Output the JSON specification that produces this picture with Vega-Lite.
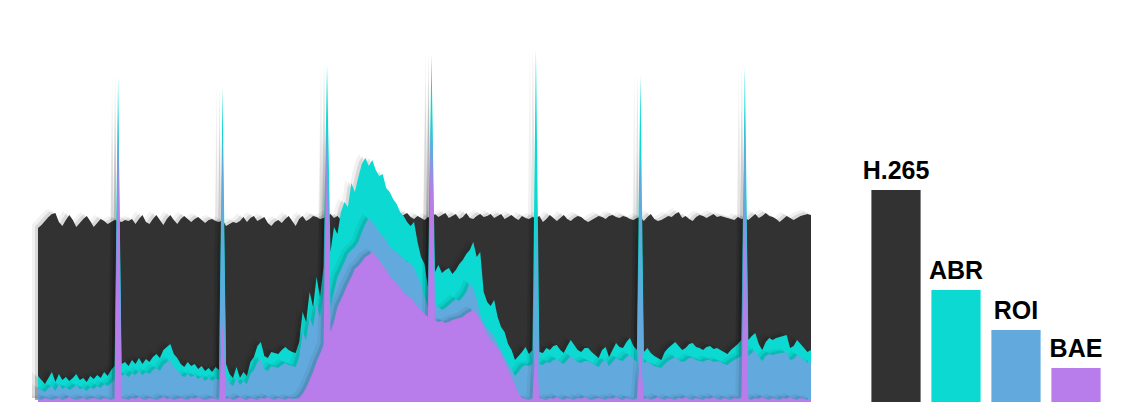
{
  "$schema": "https://vega.github.io/schema/vega-lite/v6.json",
  "background": "#ffffff",
  "padding": {"left": 32, "right": 0, "top": 0, "bottom": 0},
  "spacing": 55,
  "bounds": "flush",
  "config": {"view": {"stroke": null}},
  "datasets": {
    "frames": [
      {"f":0,"h":174,"a":26,"r":14,"b":3},{"f":1,"h":177,"a":22,"r":12,"b":2},{"f":2,"h":181,"a":18,"r":10,"b":4},{"f":3,"h":185,"a":24,"r":14,"b":3},{"f":4,"h":188,"a":30,"r":16,"b":2},
      {"f":5,"h":189,"a":20,"r":11,"b":3},{"f":6,"h":180,"a":28,"r":18,"b":4},{"f":7,"h":176,"a":22,"r":13,"b":2},{"f":8,"h":182,"a":25,"r":15,"b":3},{"f":9,"h":187,"a":21,"r":12,"b":5},
      {"f":10,"h":182,"a":24,"r":14,"b":3},{"f":11,"h":175,"a":28,"r":17,"b":2},{"f":12,"h":179,"a":22,"r":13,"b":3},{"f":13,"h":183,"a":24,"r":14,"b":4},{"f":14,"h":186,"a":20,"r":11,"b":2},
      {"f":15,"h":181,"a":26,"r":15,"b":3},{"f":16,"h":175,"a":23,"r":13,"b":4},{"f":17,"h":179,"a":27,"r":16,"b":3},{"f":18,"h":183,"a":24,"r":14,"b":2},{"f":19,"h":181,"a":30,"r":18,"b":4},
      {"f":20,"h":178,"a":26,"r":16,"b":3},{"f":21,"h":180,"a":32,"r":19,"b":2},{"f":22,"h":182,"a":36,"r":22,"b":3},{"f":23,"h":181,"a":325,"r":292,"b":259},{"f":24,"h":180,"a":38,"r":26,"b":4},
      {"f":25,"h":182,"a":40,"r":28,"b":3},{"f":26,"h":181,"a":36,"r":25,"b":2},{"f":27,"h":183,"a":42,"r":29,"b":4},{"f":28,"h":178,"a":38,"r":27,"b":3},{"f":29,"h":183,"a":44,"r":31,"b":5},
      {"f":30,"h":187,"a":38,"r":27,"b":3},{"f":31,"h":180,"a":43,"r":30,"b":2},{"f":32,"h":178,"a":40,"r":28,"b":4},{"f":33,"h":183,"a":45,"r":32,"b":3},{"f":34,"h":187,"a":48,"r":34,"b":2},
      {"f":35,"h":182,"a":44,"r":31,"b":3},{"f":36,"h":177,"a":52,"r":37,"b":5},{"f":37,"h":183,"a":55,"r":40,"b":3},{"f":38,"h":187,"a":58,"r":42,"b":4},{"f":39,"h":182,"a":48,"r":35,"b":2},
      {"f":40,"h":178,"a":44,"r":32,"b":3},{"f":41,"h":183,"a":38,"r":27,"b":4},{"f":42,"h":186,"a":35,"r":25,"b":3},{"f":43,"h":183,"a":40,"r":28,"b":2},{"f":44,"h":180,"a":36,"r":25,"b":4},
      {"f":45,"h":183,"a":38,"r":27,"b":3},{"f":46,"h":185,"a":33,"r":23,"b":5},{"f":47,"h":182,"a":36,"r":25,"b":3},{"f":48,"h":179,"a":31,"r":21,"b":2},{"f":49,"h":182,"a":34,"r":24,"b":3},
      {"f":50,"h":183,"a":30,"r":21,"b":4},{"f":51,"h":181,"a":35,"r":24,"b":3},{"f":52,"h":180,"a":32,"r":22,"b":2},{"f":53,"h":182,"a":315,"r":272,"b":80},{"f":54,"h":176,"a":38,"r":26,"b":3},
      {"f":55,"h":178,"a":28,"r":19,"b":4},{"f":56,"h":180,"a":24,"r":16,"b":2},{"f":57,"h":179,"a":35,"r":24,"b":3},{"f":58,"h":181,"a":24,"r":17,"b":5},{"f":59,"h":185,"a":30,"r":21,"b":3},
      {"f":60,"h":180,"a":26,"r":18,"b":2},{"f":61,"h":184,"a":40,"r":28,"b":4},{"f":62,"h":186,"a":45,"r":32,"b":3},{"f":63,"h":181,"a":56,"r":40,"b":2},{"f":64,"h":183,"a":60,"r":43,"b":4},
      {"f":65,"h":185,"a":46,"r":33,"b":3},{"f":66,"h":179,"a":44,"r":31,"b":5},{"f":67,"h":176,"a":50,"r":36,"b":3},{"f":68,"h":180,"a":49,"r":35,"b":2},{"f":69,"h":182,"a":48,"r":34,"b":4},
      {"f":70,"h":179,"a":52,"r":37,"b":3},{"f":71,"h":183,"a":55,"r":39,"b":2},{"f":72,"h":186,"a":52,"r":37,"b":4},{"f":73,"h":181,"a":50,"r":36,"b":3},{"f":74,"h":176,"a":49,"r":35,"b":3},
      {"f":75,"h":183,"a":60,"r":45,"b":4},{"f":76,"h":186,"a":90,"r":70,"b":8},{"f":77,"h":181,"a":80,"r":62,"b":14},{"f":78,"h":183,"a":110,"r":85,"b":22},{"f":79,"h":186,"a":95,"r":75,"b":30},
      {"f":80,"h":185,"a":125,"r":98,"b":40},{"f":81,"h":183,"a":105,"r":85,"b":48},{"f":82,"h":184,"a":135,"r":110,"b":57},{"f":83,"h":186,"a":337,"r":285,"b":262},{"f":84,"h":188,"a":150,"r":95,"b":70},
      {"f":85,"h":184,"a":175,"r":110,"b":80},{"f":86,"h":186,"a":168,"r":125,"b":95},{"f":87,"h":182,"a":190,"r":132,"b":102},{"f":88,"h":185,"a":200,"r":140,"b":110},{"f":89,"h":187,"a":195,"r":148,"b":118},
      {"f":90,"h":184,"a":219,"r":152,"b":125},{"f":91,"h":186,"a":210,"r":155,"b":133},{"f":92,"h":188,"a":225,"r":160,"b":136},{"f":93,"h":183,"a":238,"r":170,"b":140},{"f":94,"h":185,"a":244,"r":178,"b":145},
      {"f":95,"h":187,"a":236,"r":184,"b":147},{"f":96,"h":183,"a":242,"r":180,"b":150},{"f":97,"h":186,"a":232,"r":176,"b":146},{"f":98,"h":188,"a":226,"r":170,"b":142},{"f":99,"h":184,"a":228,"r":166,"b":136},
      {"f":100,"h":186,"a":214,"r":162,"b":132},{"f":101,"h":183,"a":210,"r":156,"b":126},{"f":102,"h":185,"a":203,"r":152,"b":122},{"f":103,"h":187,"a":198,"r":150,"b":118},{"f":104,"h":184,"a":190,"r":146,"b":114},
      {"f":105,"h":187,"a":186,"r":144,"b":110},{"f":106,"h":189,"a":180,"r":140,"b":106},{"f":107,"h":185,"a":176,"r":139,"b":104},{"f":108,"h":183,"a":180,"r":134,"b":100},{"f":109,"h":186,"a":160,"r":126,"b":96},
      {"f":110,"h":184,"a":145,"r":118,"b":92},{"f":111,"h":182,"a":138,"r":105,"b":88},{"f":112,"h":185,"a":115,"r":95,"b":85},{"f":113,"h":183,"a":347,"r":320,"b":300},{"f":114,"h":188,"a":130,"r":99,"b":82},
      {"f":115,"h":185,"a":137,"r":95,"b":80},{"f":116,"h":187,"a":129,"r":92,"b":81},{"f":117,"h":189,"a":132,"r":94,"b":79},{"f":118,"h":184,"a":134,"r":97,"b":80},{"f":119,"h":186,"a":128,"r":100,"b":82},
      {"f":120,"h":188,"a":132,"r":103,"b":83},{"f":121,"h":183,"a":138,"r":101,"b":84},{"f":122,"h":185,"a":142,"r":105,"b":85},{"f":123,"h":189,"a":148,"r":110,"b":88},{"f":124,"h":184,"a":152,"r":119,"b":90},
      {"f":125,"h":183,"a":160,"r":114,"b":92},{"f":126,"h":186,"a":145,"r":104,"b":88},{"f":127,"h":188,"a":150,"r":88,"b":82},{"f":128,"h":185,"a":110,"r":79,"b":76},{"f":129,"h":186,"a":100,"r":74,"b":68},
      {"f":130,"h":188,"a":96,"r":70,"b":62},{"f":131,"h":184,"a":102,"r":66,"b":58},{"f":132,"h":186,"a":85,"r":58,"b":54},{"f":133,"h":188,"a":75,"r":52,"b":48},{"f":134,"h":183,"a":70,"r":45,"b":40},
      {"f":135,"h":185,"a":58,"r":39,"b":33},{"f":136,"h":187,"a":52,"r":33,"b":25},{"f":137,"h":184,"a":42,"r":26,"b":18},{"f":138,"h":182,"a":46,"r":30,"b":8},{"f":139,"h":186,"a":50,"r":35,"b":4},
      {"f":140,"h":184,"a":55,"r":37,"b":3},{"f":141,"h":183,"a":48,"r":36,"b":2},{"f":142,"h":185,"a":52,"r":38,"b":3},{"f":143,"h":184,"a":352,"r":190,"b":60},{"f":144,"h":186,"a":50,"r":38,"b":4},
      {"f":145,"h":180,"a":49,"r":37,"b":3},{"f":146,"h":183,"a":54,"r":40,"b":2},{"f":147,"h":187,"a":52,"r":39,"b":4},{"f":148,"h":184,"a":56,"r":42,"b":3},{"f":149,"h":181,"a":57,"r":43,"b":5},
      {"f":150,"h":184,"a":52,"r":40,"b":3},{"f":151,"h":187,"a":49,"r":38,"b":2},{"f":152,"h":183,"a":56,"r":42,"b":4},{"f":153,"h":181,"a":62,"r":46,"b":3},{"f":154,"h":184,"a":57,"r":43,"b":2},
      {"f":155,"h":186,"a":52,"r":40,"b":4},{"f":156,"h":185,"a":50,"r":39,"b":3},{"f":157,"h":182,"a":54,"r":41,"b":5},{"f":158,"h":180,"a":54,"r":41,"b":3},{"f":159,"h":182,"a":50,"r":39,"b":2},
      {"f":160,"h":184,"a":47,"r":37,"b":3},{"f":161,"h":186,"a":44,"r":35,"b":4},{"f":162,"h":185,"a":52,"r":40,"b":3},{"f":163,"h":183,"a":55,"r":42,"b":2},{"f":164,"h":186,"a":45,"r":36,"b":4},
      {"f":165,"h":187,"a":52,"r":40,"b":3},{"f":166,"h":185,"a":59,"r":44,"b":5},{"f":167,"h":184,"a":55,"r":42,"b":3},{"f":168,"h":186,"a":54,"r":41,"b":2},{"f":169,"h":185,"a":60,"r":45,"b":4},
      {"f":170,"h":183,"a":64,"r":47,"b":3},{"f":171,"h":182,"a":56,"r":43,"b":2},{"f":172,"h":184,"a":52,"r":40,"b":3},{"f":173,"h":185,"a":327,"r":250,"b":50},{"f":174,"h":181,"a":50,"r":39,"b":3},
      {"f":175,"h":185,"a":54,"r":41,"b":4},{"f":176,"h":188,"a":49,"r":38,"b":2},{"f":177,"h":183,"a":46,"r":36,"b":3},{"f":178,"h":181,"a":44,"r":35,"b":5},{"f":179,"h":182,"a":42,"r":34,"b":3},
      {"f":180,"h":184,"a":50,"r":38,"b":2},{"f":181,"h":186,"a":54,"r":41,"b":4},{"f":182,"h":185,"a":57,"r":43,"b":3},{"f":183,"h":188,"a":60,"r":45,"b":2},{"f":184,"h":190,"a":56,"r":42,"b":4},
      {"f":185,"h":184,"a":52,"r":40,"b":3},{"f":186,"h":186,"a":54,"r":41,"b":5},{"f":187,"h":183,"a":58,"r":44,"b":3},{"f":188,"h":181,"a":59,"r":44,"b":2},{"f":189,"h":185,"a":55,"r":42,"b":4},
      {"f":190,"h":187,"a":54,"r":41,"b":3},{"f":191,"h":186,"a":52,"r":40,"b":2},{"f":192,"h":184,"a":55,"r":42,"b":4},{"f":193,"h":186,"a":56,"r":42,"b":3},{"f":194,"h":188,"a":53,"r":40,"b":5},
      {"f":195,"h":185,"a":54,"r":41,"b":3},{"f":196,"h":186,"a":52,"r":40,"b":2},{"f":197,"h":185,"a":50,"r":38,"b":4},{"f":198,"h":184,"a":48,"r":37,"b":3},{"f":199,"h":183,"a":52,"r":40,"b":2},
      {"f":200,"h":182,"a":55,"r":42,"b":4},{"f":201,"h":185,"a":58,"r":44,"b":3},{"f":202,"h":183,"a":62,"r":46,"b":4},{"f":203,"h":184,"a":335,"r":292,"b":195},{"f":204,"h":182,"a":62,"r":46,"b":3},
      {"f":205,"h":185,"a":66,"r":49,"b":2},{"f":206,"h":188,"a":69,"r":52,"b":4},{"f":207,"h":184,"a":58,"r":45,"b":3},{"f":208,"h":186,"a":52,"r":41,"b":5},{"f":209,"h":189,"a":60,"r":46,"b":3},
      {"f":210,"h":186,"a":64,"r":48,"b":2},{"f":211,"h":185,"a":62,"r":47,"b":4},{"f":212,"h":183,"a":64,"r":48,"b":3},{"f":213,"h":180,"a":65,"r":49,"b":2},{"f":214,"h":183,"a":66,"r":49,"b":4},
      {"f":215,"h":186,"a":67,"r":50,"b":3},{"f":216,"h":184,"a":54,"r":42,"b":5},{"f":217,"h":182,"a":56,"r":43,"b":3},{"f":218,"h":184,"a":62,"r":47,"b":2},{"f":219,"h":186,"a":58,"r":45,"b":4},
      {"f":220,"h":187,"a":54,"r":42,"b":3},{"f":221,"h":188,"a":50,"r":39,"b":2},{"f":222,"h":187,"a":52,"r":40,"b":3}
    ],
    "totals": [
      {"method": "H.265", "v": 100},
      {"method": "ABR", "v": 52.8},
      {"method": "ROI", "v": 34},
      {"method": "BAE", "v": 16}
    ]
  },
  "hconcat": [
    {
      "width": 773,
      "height": 402,
      "data": {"name": "frames"},
      "encoding": {
        "x": {"field": "f", "type": "quantitative", "scale": {"domain": [0, 222], "nice": false, "zero": false}, "axis": null}
      },
      "layer": [
        {"mark": {"type": "area", "color": "#000000", "opacity": 0.05, "xOffset": -6, "yOffset": -4}, "encoding": {"y": {"field": "h", "type": "quantitative", "scale": {"domain": [0, 402], "nice": false}, "axis": null}}},
        {"mark": {"type": "area", "color": "#000000", "opacity": 0.1, "xOffset": -3, "yOffset": -2}, "encoding": {"y": {"field": "h", "type": "quantitative"}}},
        {"mark": {"type": "area", "color": "#323232"}, "encoding": {"y": {"field": "h", "type": "quantitative"}}},
        {"mark": {"type": "area", "color": "#000000", "opacity": 0.05, "xOffset": -6, "yOffset": -4}, "encoding": {"y": {"field": "a", "type": "quantitative"}}},
        {"mark": {"type": "area", "color": "#000000", "opacity": 0.1, "xOffset": -3, "yOffset": -2}, "encoding": {"y": {"field": "a", "type": "quantitative"}}},
        {"mark": {"type": "area", "color": "#0cdad2"}, "encoding": {"y": {"field": "a", "type": "quantitative"}}},
        {"mark": {"type": "area", "color": "#000000", "opacity": 0.05, "xOffset": -6, "yOffset": -4}, "encoding": {"y": {"field": "r", "type": "quantitative"}}},
        {"mark": {"type": "area", "color": "#000000", "opacity": 0.1, "xOffset": -3, "yOffset": -2}, "encoding": {"y": {"field": "r", "type": "quantitative"}}},
        {"mark": {"type": "area", "color": "#62a9de"}, "encoding": {"y": {"field": "r", "type": "quantitative"}}},
        {"mark": {"type": "area", "color": "#000000", "opacity": 0.05, "xOffset": -6, "yOffset": -4}, "encoding": {"y": {"field": "b", "type": "quantitative"}}},
        {"mark": {"type": "area", "color": "#000000", "opacity": 0.1, "xOffset": -3, "yOffset": -2}, "encoding": {"y": {"field": "b", "type": "quantitative"}}},
        {"mark": {"type": "area", "color": "#b97ceb"}, "encoding": {"y": {"field": "b", "type": "quantitative"}}}
      ]
    },
    {
      "width": 240,
      "height": 402,
      "data": {"name": "totals"},
      "encoding": {
        "x": {"field": "method", "type": "nominal", "sort": null, "scale": {"paddingInner": 0.18, "paddingOuter": 0.09}, "axis": null},
        "y": {"field": "v", "type": "quantitative", "scale": {"domain": [0, 189.6], "nice": false}, "axis": null}
      },
      "layer": [
        {
          "mark": {"type": "bar"},
          "encoding": {
            "color": {"field": "method", "type": "nominal", "scale": {"domain": ["H.265", "ABR", "ROI", "BAE"], "range": ["#323232", "#0cdad2", "#62a9de", "#b97ceb"]}, "legend": null}
          }
        },
        {
          "mark": {"type": "text", "dy": -11, "baseline": "alphabetic", "align": "center", "font": "Liberation Sans", "fontWeight": "bold", "fontSize": 25, "color": "#000000"},
          "encoding": {"text": {"field": "method", "type": "nominal"}}
        }
      ]
    }
  ]
}
